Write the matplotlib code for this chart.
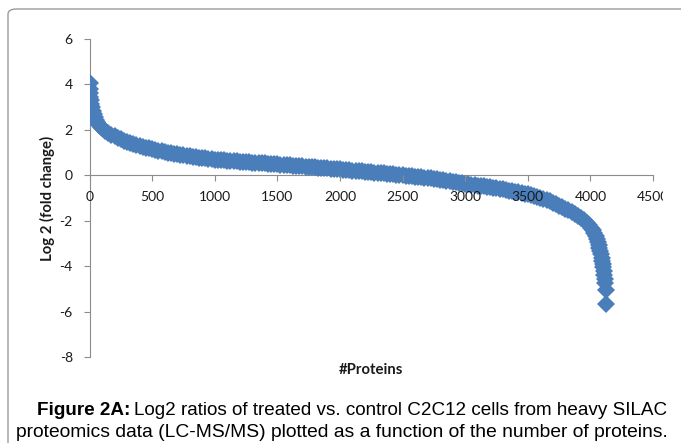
import matplotlib
matplotlib.use("Agg")
import matplotlib.pyplot as plt
from matplotlib.patches import FancyBboxPatch
from matplotlib.transforms import Bbox

# protein rank (x) and log2 fold change (y)
head_idx = [0, 2, 4, 7, 10, 14, 19, 25, 32, 40, 50, 62, 75, 90]
head_val = [4.05, 3.80, 3.62, 3.45, 3.30, 3.15, 3.00, 2.85, 2.70, 2.57, 2.45, 2.33,
            2.22, 2.12]

body_idx = list(range(100, 3751, 25))
body_val = [2.06, 1.95, 1.86, 1.78, 1.71, 1.64, 1.58, 1.52, 1.47, 1.42, 1.38, 1.34,
            1.30, 1.26, 1.22, 1.18, 1.14, 1.11, 1.08, 1.05, 1.02, 1.00, 0.97, 0.95,
            0.93, 0.90, 0.88, 0.86, 0.84, 0.82, 0.80, 0.78, 0.76, 0.74, 0.73, 0.71,
            0.69, 0.68, 0.67, 0.66, 0.65, 0.64, 0.62, 0.61, 0.60, 0.59, 0.58, 0.57,
            0.56, 0.55, 0.54, 0.53, 0.52, 0.51, 0.50, 0.49, 0.48, 0.47, 0.46, 0.45,
            0.44, 0.43, 0.42, 0.41, 0.39, 0.38, 0.37, 0.36, 0.35, 0.34, 0.33, 0.32,
            0.30, 0.29, 0.28, 0.27, 0.26, 0.25, 0.23, 0.22, 0.21, 0.19, 0.18, 0.17,
            0.16, 0.14, 0.13, 0.12, 0.10, 0.09, 0.08, 0.06, 0.05, 0.04, 0.03, 0.01,
            0.00, -0.01, -0.03, -0.04, -0.06, -0.07, -0.09, -0.10, -0.12, -0.14, -0.15,
            -0.17, -0.19, -0.21, -0.23, -0.25, -0.28, -0.30, -0.32, -0.35, -0.37, -0.39,
            -0.41, -0.43, -0.45, -0.47, -0.49, -0.51, -0.53, -0.55, -0.58, -0.60, -0.62,
            -0.65, -0.67, -0.70, -0.72, -0.75, -0.78, -0.81, -0.84, -0.87, -0.91, -0.95,
            -0.99, -1.03, -1.08, -1.14, -1.20, -1.27, -1.34]

tail_idx = [3775, 3800, 3825, 3850, 3875, 3900, 3925, 3950, 3970, 3990, 4005, 4020,
            4032, 4042, 4050, 4058, 4065, 4072, 4078, 4084, 4089, 4094, 4098, 4102,
            4106, 4110, 4114, 4118, 4121, 4125]
tail_val = [-1.41, -1.48, -1.55, -1.62, -1.70, -1.78, -1.87, -1.97, -2.08, -2.20,
            -2.31, -2.43, -2.55, -2.68, -2.80, -2.93, -3.06, -3.20, -3.34, -3.48,
            -3.62, -3.76, -3.90, -4.05, -4.22, -4.40, -4.58, -4.75, -5.05, -5.68]

x = head_idx + body_idx + tail_idx
y = head_val + body_val + tail_val

xticks = [0, 500, 1000, 1500, 2000, 2500, 3000, 3500, 4000, 4500]
yticks = [-8, -6, -4, -2, 0, 2, 4, 6]

W, H = 681, 443
fig = plt.figure(figsize=(W / 100, H / 100), dpi=100)

# rounded frame around the figure panel (runs off the right and bottom)
frame = FancyBboxPatch((8 / W, -0.05), 1.2, 1.05 - 9 / H,
                       boxstyle="round,pad=0,rounding_size=0.012",
                       transform=fig.transFigure, fill=False,
                       edgecolor="#9a9a9a", linewidth=1.0)
fig.patches.append(frame)

ax = fig.add_axes([89.5 / W, 1 - 357 / H, (653 - 89.5) / W, (357 - 39) / H])
ax.patch.set_visible(False)
ax.set_axisbelow(False)  # tick labels sit on top of the markers

ax.plot(x, y, linestyle="none", marker="D", markersize=9.5,
        markerfacecolor="#4a7ebb", markeredgewidth=0, color="#4a7ebb", zorder=2)

ax.set_xlim(0, 4500)
ax.set_ylim(-8, 6)
ax.set_xticks(xticks)
ax.set_yticks(yticks)
ax.set_xticklabels([str(t) for t in xticks])
ax.set_yticklabels([str(t) for t in yticks])

for s in ["top", "right"]:
    ax.spines[s].set_visible(False)
ax.spines["bottom"].set_position(("data", 0))
for s in ["left", "bottom"]:
    ax.spines[s].set_color("#8c8c8c")
    ax.spines[s].set_zorder(1)
ax.tick_params(axis="both", colors="#8c8c8c", length=4, width=0.8,
               labelcolor="#1a1a1a", labelsize=10)
ax.tick_params(axis="y", pad=8)
ax.tick_params(axis="x", pad=7)
for lab in ax.get_xticklabels() + ax.get_yticklabels():
    lab.set_fontfamily("Lato")

# Excel clips the last tick label at the chart edge
for lab in ax.get_xticklabels():
    lab.set_clip_box(Bbox.from_extents(0, 0, 663, H))
    lab.set_clip_on(True)

fig.text(47 / W, 1 - 198 / H, "Log 2 (fold change)", rotation=90,
         ha="center", va="center", fontsize=10.7, fontweight="bold",
         family="Lato", color="#1a1a1a")
fig.text(371 / W, 1 - 370 / H, "#Proteins", ha="center", va="center",
         fontsize=10.7, fontweight="bold", family="Lato", color="#1a1a1a")

# caption, first part bold
cap_font = ["Liberation Sans", "DejaVu Sans"]
r = fig.canvas.get_renderer()
t1 = fig.text(37 / W, 1 - 415 / H, "Figure 2A:", fontsize=13.6, fontweight="bold",
              family=cap_font, ha="left", va="baseline")
bb = t1.get_window_extent(renderer=r)
fig.text((bb.x1 + 4) / W, 1 - 415 / H,
         "Log2 ratios of treated vs. control C2C12 cells from heavy SILAC",
         fontsize=13.6, family=cap_font, ha="left", va="baseline")
fig.text(668 / W, 1 - 437 / H,
         "proteomics data (LC-MS/MS) plotted as a function of the number of proteins.",
         fontsize=13.9, family=cap_font, ha="right", va="baseline")

fig.savefig("out.png", dpi=100)
